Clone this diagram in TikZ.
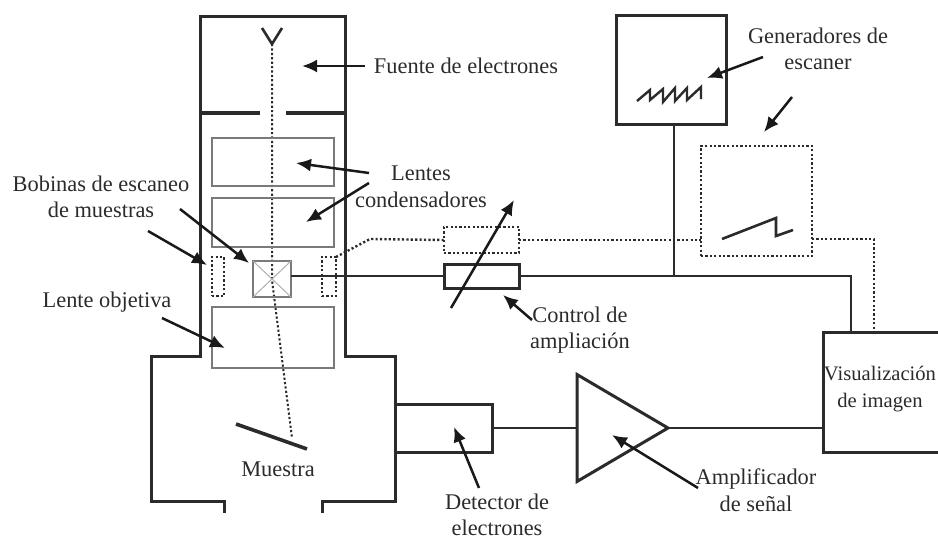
\documentclass[tikz,border=0pt]{standalone}
\usepackage{fontspec}
\setmainfont{Liberation Serif}
\usetikzlibrary{calc,arrows.meta,positioning,shapes.geometric}
\definecolor{ink}{HTML}{2B2B2B}
\definecolor{lensgray}{HTML}{7A7A7A}
\tikzset{
  frame/.style={draw=ink, line width=3pt, line join=miter},
  box/.style={draw=ink, line width=3pt, fill=white, inner sep=0pt, outer sep=0pt},
  lens/.style={draw=lensgray, line width=1.9pt, inner sep=0pt, outer sep=0pt, minimum width=122pt},
  dotbox/.style={draw=ink, line width=2.4pt, dash pattern=on 2.2pt off 2.2pt, inner sep=0pt, outer sep=0pt},
  wire/.style={draw=ink, line width=2.8pt},
  dotwire/.style={draw=ink, line width=2.4pt, dash pattern=on 2.2pt off 2.2pt},
  arr/.style={-{Latex[length=15pt,width=13pt]}, line width=2.5pt, draw=black!90},
  lab/.style={align=center, inner sep=0pt, text=ink, font=\fontsize{22.4}{26.5}\selectfont}
}
\begin{document}
\begin{tikzpicture}[x=1pt, y=-1pt]
  \useasboundingbox (0,0) rectangle (938,541);

  % column and chamber
  \draw[frame] (200,113) -- (200,16) -- (345,16) -- (345,113);
  \draw[frame, line width=3.6pt] (200,113) -- (260,113);
  \draw[frame, line width=3.6pt] (286,113) -- (345,113);
  \draw[frame] (200,113) -- (200,356) -- (151,356) -- (151,501) -- (224,501) -- (224,513);
  \draw[frame] (345,113) -- (345,356) -- (395,356) -- (395,501) -- (322,501) -- (322,513);

  % source, beam, sample
  \coordinate (tipv) at (272,44);
  \coordinate (bend) at (272,280);
  \coordinate (spot) at (292,438);
  \draw[frame, line width=2.6pt] (262,28) -- (tipv) -- (282,28);
  \draw[dotwire, line width=2pt] (tipv) -- (bend) -- (spot);
  \draw[frame, line width=3.6pt] (236,424) -- (307,449);

  % lenses and coils
  \node[lens, minimum height=48pt] (lensa) at (273,162) {};
  \node[lens, minimum height=49pt] (lensb) at (273,222.5) {};
  \node[lens, minimum height=61pt] (lensc) at (273,337.5) {};
  \node[lens, minimum width=38pt, minimum height=36pt, line width=2.4pt] (scan) at (272,279) {};
  \draw[lensgray!60, line width=1pt] (scan.north west) -- (scan.south east);
  \draw[lensgray!60, line width=1pt] (scan.south west) -- (scan.north east);
  \node[dotbox, minimum width=12pt, minimum height=39pt] (coilleft) at (218,276.5) {};
  \node[dotbox, minimum width=14pt, minimum height=39pt] (coilright) at (329,276.5) {};

  % right hand blocks
  \node[box, minimum width=110pt, minimum height=109pt] (gena) at (671,69.5) {};
  \node[dotbox, minimum width=111pt, minimum height=110pt] (genb) at (756.5,201) {};
  \node[box, minimum width=75pt, minimum height=24pt] (res) at (481.5,276) {};
  \node[dotbox, minimum width=75pt, minimum height=26pt] (resb) at (481.5,240) {};
  \node[box, minimum width=97pt, minimum height=48pt] (det) at (443.5,428) {};
  \node[box, minimum width=130pt, minimum height=120pt] (disp) at (888,392) {};
  \node[box, isosceles triangle, isosceles triangle stretches, minimum width=107pt,
    minimum height=91pt, anchor=apex] (amp) at (668,428) {};

  % sawtooth traces
  \draw[frame, line width=2.4pt] (637,101) -- (650,90) -- (650,100) -- (663,89) -- (663,102) -- (675,88)
    -- (675,101) -- (687,88) -- (687,100) -- (701,87) -- (701,99);
  \draw[frame, line width=2.6pt] (722,239) -- (776,218) -- (776,236) -- (793,230);

  % wires
  \coordinate (tee) at (674,276);
  \coordinate (dispa) at (851,332);
  \coordinate (dispb) at (874,332);
  \coordinate (kink) at (370,239);
  \draw[wire] (scan.east |- res.west) -- (res.west);
  \draw[wire] (res.east) -| (dispa);
  \draw[wire] (gena.south -| tee) -- (tee);
  \draw[wire] (det.east) -- (amp.lower side);
  \draw[wire] (amp.apex) -- (amp.apex -| disp.west);
  \draw[dotwire] (coilright.north east) -- (kink) -- (resb.west);
  \draw[dotwire] (resb.east) -- (genb.west |- resb.east);
  \draw[dotwire] (genb.east |- 0,239) -| (dispb);

  % labels
  \node[lab] (fuente) at (466,66) {Fuente de electrones};
  \node[lab] (lentes) at (421,187) {Lentes\\condensadores};
  \node[lab] (genlab) at (818,49) {Generadores de\\escaner};
  \node[lab] (bobinas) at (101,197) {Bobinas de escaneo\\de muestras};
  \node[lab] (objetiva) at (107,302) {Lente objetiva};
  \node[lab] (control) at (580,330) {Control de\\ampliación};
  \node[lab] (muestra) at (278,469) {Muestra};
  \node[lab] (detlab) at (497,515) {Detector de\\electrones};
  \node[lab] (amplab) at (756,490) {Amplificador\\de señal};
  \node[lab, font=\fontsize{20.6}{26.5}\selectfont] (displab) at (880,389) {Visualización\\de imagen};

  % pointers
  \coordinate (genbtail) at (792,97);
  \coordinate (gainlow) at (451,308);
  \coordinate (gainhigh) at (514,200);
  \draw[arr] (gainlow) -- (gainhigh);
  \draw[arr] (365,66) -- (302,66);
  \draw[arr] (369,173) -- (296,163);
  \draw[arr] (369,183) -- (306,222);
  \draw[arr] (148,231) -- (207,265);
  \draw[arr] (180,209) -- (249,263);
  \draw[arr] (162,318) -- (225,348);
  \draw[arr] (763,57) -- (707,78);
  \draw[arr] (genbtail) -- (764,132);
  \draw[arr] (532,320) -- (503,295);
  \draw[arr] (479,488) -- (454,427);
  \draw[arr] (698,488) -- (612,435);
\end{tikzpicture}
\end{document}
